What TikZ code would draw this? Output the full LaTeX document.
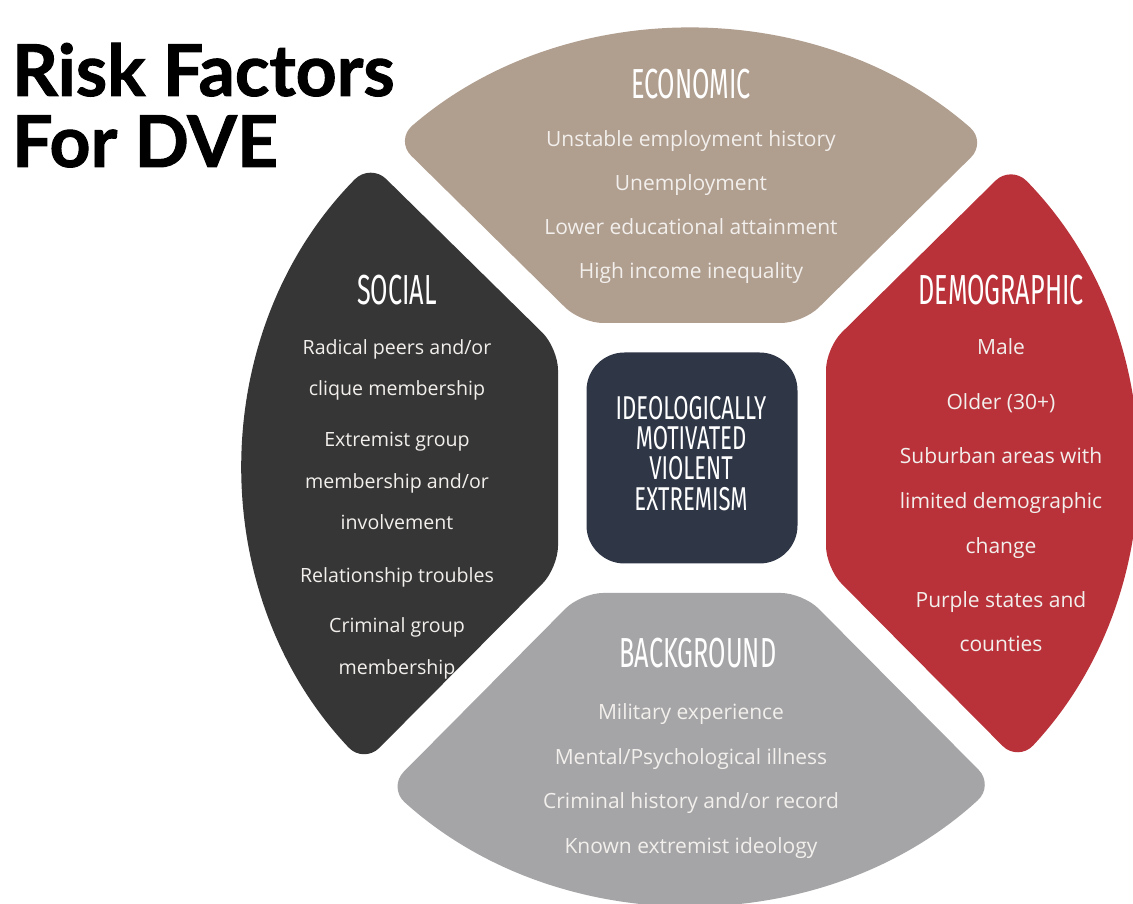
\documentclass[tikz,border=0pt]{standalone}
\usepackage{fontspec}
\setmainfont{Open Sans}
\newfontfamily\headfont[FakeStretch=0.60]{Fira Sans}
\newfontfamily\corefont[FakeStretch=0.67]{Fira Sans}
\newfontfamily\titlefont[BoldFeatures={FakeBold=1.3}]{Lato}
\usetikzlibrary{calc}
\definecolor{econ}{HTML}{B09E8F}
\definecolor{soc}{HTML}{363636}
\definecolor{demo}{HTML}{B9323A}
\definecolor{back}{HTML}{A5A5A7}
\definecolor{core}{HTML}{2F3747}
\definecolor{txt}{HTML}{F2EFEC}
\tikzset{
  seg/.style={rounded corners=22pt},
  head/.style={font=\headfont\fontsize{42}{42}\selectfont, text=white, anchor=base, inner sep=0pt},
  corehead/.style={font=\corefont\fontsize{33}{33}\selectfont, text=white, anchor=base, inner sep=0pt},
  body/.style={font=\fontsize{21}{21}\selectfont, text=txt, anchor=mid, inner sep=0pt},
  bodys/.style={body, font=\fontsize{19.6}{19.6}\selectfont},
  corebox/.style={fill=core, rounded corners=38pt, minimum width=211pt, minimum height=211pt, inner sep=0pt},
  ttl/.style={font=\titlefont\bfseries\fontsize{71.5}{71.5}\selectfont, anchor=base west, inner sep=0pt}
}
\begin{document}
\begin{tikzpicture}[x=1pt,y=1pt]
\fill[white] (0,0) rectangle (1133,904);
\useasboundingbox (0,0) rectangle (1133,904);
\coordinate (O) at (690,437);
% economic
\fill[econ, seg] (581,581) -- ($(O)+(131.45:445 and 436)$) arc[start angle=131.45, end angle=48.2, x radius=445, y radius=436] -- (803,581) -- cycle;
% social
\fill[soc, seg] (558,556) -- ($(O)+(135.9:445 and 436)$) arc[start angle=135.9, end angle=222.85, x radius=445, y radius=436] -- (558,336) -- cycle;
% demographic
\fill[demo, seg] (826,556) -- ($(O)+(43.8:445 and 436)$) arc[start angle=43.8, end angle=-42.5, x radius=445, y radius=436] -- (826,336) -- cycle;
% background
\fill[back, seg] (803,311) -- ($(O)+(-46.9:445 and 436)$) arc[start angle=-46.9, end angle=-132.7, x radius=445, y radius=436] -- (581,311) -- cycle;
% centre
\node[corebox] (core) at (692,446) {};
\node[corehead] (c1) at (691,904-419.5) {IDEOLOGICALLY};
\node[corehead] (c2) at (691,904-449.5) {MOTIVATED};
\node[corehead] (c3) at (691,904-480) {VIOLENT};
\node[corehead] (c4) at (691,904-510.5) {EXTREMISM};
% title
\node[ttl] (t1) at (12,808) {Risk Factors};
\node[ttl] (t2) at (12,737) {For DVE};
% headings
\node[head] (eh) at (691,805) {ECONOMIC};
\node[head] (sh) at (397,599) {SOCIAL};
\node[head] (dh) at (1001,599) {DEMOGRAPHIC};
\node[head] (bh) at (698,236) {BACKGROUND};
% body
\foreach \t/\y [count=\i] in {{Unstable employment history}/140, {Unemployment}/184, {Lower educational attainment}/228, {High income inequality}/272}
  \node[body, name=e\i] at (691,900-\y) {\t};
\foreach \t/\y [count=\i] in {{Radical peers and/or}/348, {clique membership}/389, {Extremist group}/440, {membership and/or}/482, {involvement}/523, {Relationship troubles}/576, {Criminal group}/626, {membership}/668}
  \node[bodys, name=s\i] at (397,900-\y) {\t};
\foreach \t/\y [count=\i] in {{Male}/348, {Older (30+)}/403, {Suburban areas with}/457, {limited demographic}/502, {change}/547, {Purple states and}/601, {counties}/645}
  \node[body, name=d\i] at (1001,900-\y) {\t};
\foreach \t/\y [count=\i] in {{Military experience}/713, {Mental/Psychological illness}/758, {Criminal history and/or record}/802, {Known extremist ideology}/847}
  \node[body, name=b\i] at (691,900-\y) {\t};
\end{tikzpicture}
\end{document}
